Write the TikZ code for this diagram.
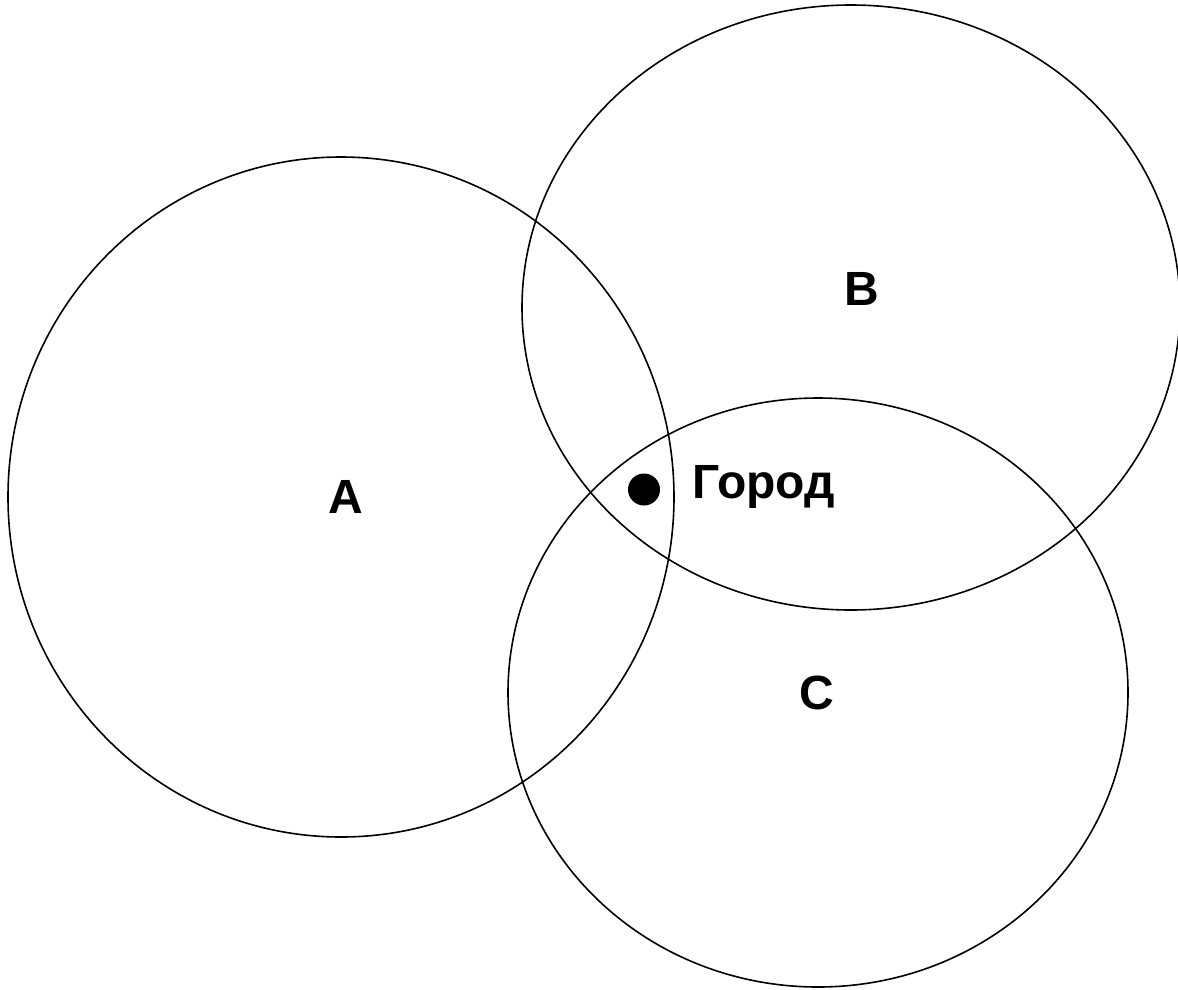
\documentclass[tikz,border=0pt]{standalone}
\usepackage{fontspec}
\setmainfont{Liberation Sans}
\usetikzlibrary{shapes.geometric}
\begin{document}
\begin{tikzpicture}[x=1pt,y=-1pt,
  setshape/.style={draw=black, line width=1.6pt, ellipse, inner sep=0pt},
  setlabel/.style={font=\fontsize{48}{56}\selectfont\bfseries, inner sep=0pt, anchor=base},
  town/.style={circle, fill=black, inner sep=0pt, minimum size=32pt}]
  \clip (0,0) rectangle (1178,989);
  \useasboundingbox (0,0) rectangle (1178,989);
  % the three regions
  \node[setshape, minimum width=666pt, minimum height=680pt] (setA) at (341,497) {};
  \node[setshape, minimum width=658pt, minimum height=605pt] (setB) at (851,307.5) {};
  \node[setshape, minimum width=620pt, minimum height=589pt] (setC) at (818,692.5) {};
  % region names
  \node[setlabel] (labA) at (345.5,513) {A};
  \node[setlabel] (labB) at (862,305) {B};
  \node[setlabel] (labC) at (817,709) {C};
  % the town in the common part
  \node[town] (dot) at (644,489.5) {};
  \node[setlabel, anchor=base west] (city) at (692,498) {Город};
\end{tikzpicture}
\end{document}
